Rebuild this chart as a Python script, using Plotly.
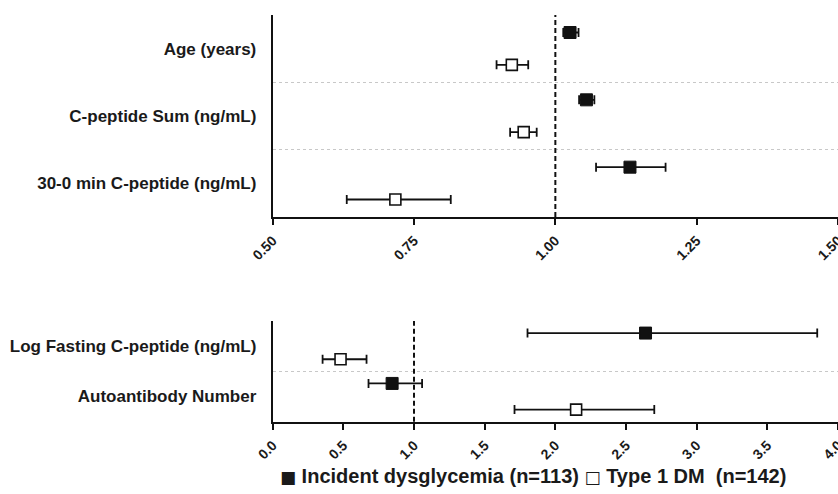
import plotly.graph_objects as go

# ---------------- data ----------------
top_labels = ["Age (years)", "C-peptide Sum (ng/mL)", "30-0 min C-peptide (ng/mL)"]
top_dys = [1.026, 1.055, 1.132]
top_dys_lo = [1.014, 1.042, 1.072]
top_dys_hi = [1.041, 1.069, 1.195]
top_t1d = [0.923, 0.944, 0.717]
top_t1d_lo = [0.896, 0.920, 0.631]
top_t1d_hi = [0.952, 0.967, 0.815]
top_ticks = [0.50, 0.75, 1.00, 1.25, 1.50]

bot_labels = ["Log Fasting C-peptide (ng/mL)", "Autoantibody Number"]
bot_dys = [2.638, 0.845]
bot_dys_lo = [1.803, 0.678]
bot_dys_hi = [3.853, 1.057]
bot_t1d = [0.480, 2.147]
bot_t1d_lo = [0.353, 1.711]
bot_t1d_hi = [0.664, 2.700]
bot_ticks = [0.0, 0.5, 1.0, 1.5, 2.0, 2.5, 3.0, 3.5, 4.0]

ref_value = 1.0
series_names = ["Incident dysglycemia (n=113)", "Type 1 DM\u00a0 (n=142)"]
series_symbols = ["■", "□"]

# ---------------- styling ----------------
W, H = 838, 494
FONT = "Liberation Sans, Arial, sans-serif"
TXT = "#1a1a1a"
px_x = lambda p: p / W
px_y = lambda p: 1 - p / H

fig = go.Figure()


def add_panel(labels, dys, dlo, dhi, t1d, tlo, thi, xa, ya, off):
    n = len(labels)
    centers = [n - i for i in range(n)]
    y_d = [c + off for c in centers]
    y_t = [c - off for c in centers]
    err_style = dict(type="data", symmetric=False, color="#111", thickness=1.8, width=4.5)
    fig.add_trace(go.Scatter(
        x=dys, y=y_d, mode="markers", xaxis=xa, yaxis=ya, showlegend=False,
        marker=dict(symbol="square", size=12, color="#111", line=dict(color="#111", width=1)),
        error_x=dict(array=[h - v for h, v in zip(dhi, dys)],
                     arrayminus=[v - l for v, l in zip(dys, dlo)], **err_style),
    ))
    fig.add_trace(go.Scatter(
        x=t1d, y=y_t, mode="markers", xaxis=xa, yaxis=ya, showlegend=False,
        marker=dict(symbol="square", size=11, color="white", line=dict(color="#111", width=1.6)),
        error_x=dict(array=[h - v for h, v in zip(thi, t1d)],
                     arrayminus=[v - l for v, l in zip(t1d, tlo)], **err_style),
    ))
    return centers


top_centers = add_panel(top_labels, top_dys, top_dys_lo, top_dys_hi,
                        top_t1d, top_t1d_lo, top_t1d_hi, "x", "y", 0.24)
bot_centers = add_panel(bot_labels, bot_dys, bot_dys_lo, bot_dys_hi,
                        bot_t1d, bot_t1d_lo, bot_t1d_hi, "x2", "y2", 0.26)

xdom = [px_x(272.7), 1.0]

common_x = dict(
    showline=True, linecolor="#111", linewidth=2, ticks="outside", ticklen=6,
    tickwidth=2, tickcolor="#111", tickangle=-45, showgrid=False, zeroline=False,
    tickfont=dict(family=FONT, size=14, color=TXT, weight="bold"), automargin=False,
    ticklabeloverflow="allow", ticklabelstandoff=2, domain=xdom,
)
common_y = dict(
    showline=True, linecolor="#111", linewidth=2, ticks="", showgrid=False,
    zeroline=False, automargin=False, ticklabelstandoff=11,
    tickfont=dict(family=FONT, size=17, color=TXT, weight="bold"),
)
minor_grid = dict(showgrid=True, griddash="dot", gridcolor="#c8c8c8", gridwidth=1, ticks="")

fig.update_layout(
    width=W, height=H, template="none",
    margin=dict(l=0, r=0, t=0, b=0),
    paper_bgcolor="white", plot_bgcolor="white",
    xaxis=dict(range=[top_ticks[0], top_ticks[-1]], tickvals=top_ticks,
               ticktext=[f"{v:.2f}" for v in top_ticks], anchor="y", **common_x),
    yaxis=dict(range=[0.5, len(top_labels) + 0.5], tickvals=top_centers,
               ticktext=top_labels, anchor="x",
               domain=[px_y(217), px_y(15)],
               minor=dict(tickmode="array",
                          tickvals=[c + 0.5 for c in top_centers[1:]], **minor_grid),
               **common_y),
    xaxis2=dict(range=[bot_ticks[0], bot_ticks[-1]], tickvals=bot_ticks,
                ticktext=[f"{v:.1f}" for v in bot_ticks], anchor="y2", **common_x),
    yaxis2=dict(range=[0.5, len(bot_labels) + 0.5], tickvals=bot_centers,
                ticktext=bot_labels, anchor="x2",
                domain=[px_y(421.7), px_y(321)],
                minor=dict(tickmode="array",
                           tickvals=[c + 0.5 for c in bot_centers[1:]], **minor_grid),
                **common_y),
)

for xa, ya in (("x", "y"), ("x2", "y2")):
    fig.add_shape(type="line", xref=xa, yref=f"{ya} domain", x0=ref_value, x1=ref_value,
                  y0=0, y1=1, line=dict(color="#111", width=2, dash="5px,3px"))

sym_span = "<span style='font-family:DejaVu Sans;font-size:17px'>{}</span>"
legend_text = " ".join(sym_span.format(s) + " " + n for s, n in zip(series_symbols, series_names))
fig.add_annotation(
    text=legend_text, xref="paper", yref="paper", x=px_x(533), y=px_y(476),
    xanchor="center", yanchor="middle", showarrow=False,
    font=dict(family=FONT, size=20, color=TXT, weight="bold"),
)

fig.write_html(
    "out.html",
    config={"displayModeBar": False},
    post_script="document.body.style.margin='0';document.body.style.overflow='hidden';",
)
